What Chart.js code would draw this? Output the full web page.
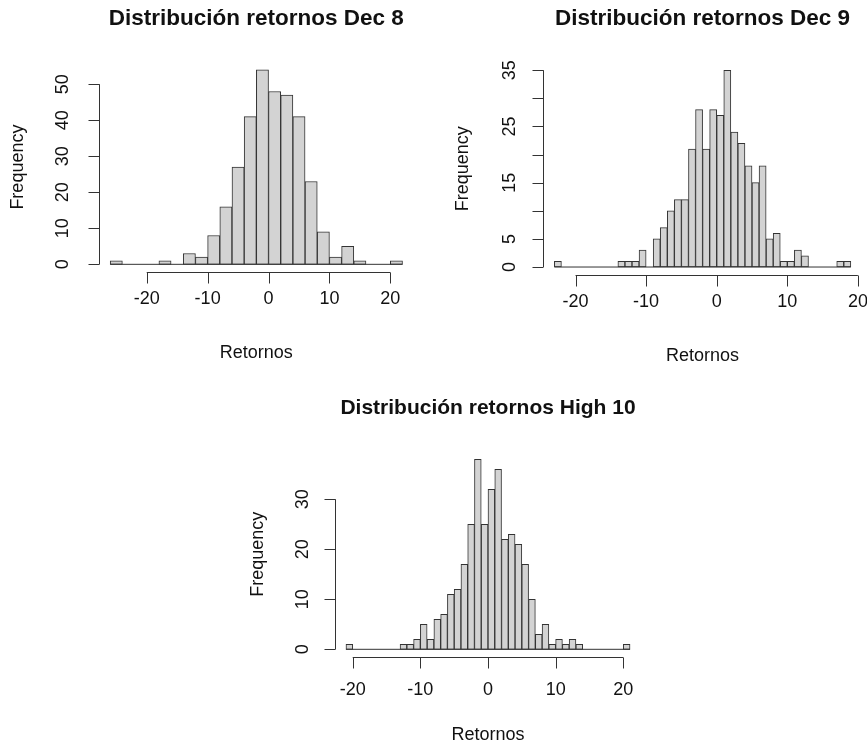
<!DOCTYPE html>
<html><head><meta charset="utf-8">
<script src="https://cdn.jsdelivr.net/npm/chart.js@4.4.1/dist/chart.umd.min.js"></script>
<style>
html,body{margin:0;padding:0;background:#fff;width:867px;height:744px;overflow:hidden}
canvas{position:absolute;left:0;top:0}
</style></head><body>
<canvas id="c1" width="867" height="744"></canvas>
<canvas id="c2" width="867" height="744"></canvas>
<canvas id="c3" width="867" height="744"></canvas>
<script>
// ---- Data ----
const titles = ["Distribución retornos Dec 8", "Distribución retornos Dec 9", "Distribución retornos High 10"];
const xAxisTitle = "Retornos";
const yAxisTitle = "Frequency";

// Dec 8: bins of width 2 starting at -26
const start1 = -26, width1 = 2;
const counts1 = [1,0,0,0,1,0,3,2,8,16,27,41,54,48,47,41,23,9,2,5,1,0,0,1];

// Dec 9: bins of width 1 starting at -23
const start2 = -23, width2 = 1;
const counts2 = [1,0,0,0,0,0,0,0,0,1,1,1,3,0,5,7,10,12,12,21,28,21,28,27,35,24,22,18,15,18,5,6,1,1,3,2,0,0,0,0,1,1];

// High 10: bins of width 1 starting at -21
const start3 = -21, width3 = 1;
const counts3 = [1,0,0,0,0,0,0,0,1,1,2,5,2,6,7,11,12,17,25,38,25,32,36,22,23,21,17,10,3,5,1,2,1,2,1,0,0,0,0,0,0,1];

const xTicks = [-20,-10,0,10,20];
const yTicks1 = [0,10,20,30,40,50];
const yLabels1 = ["0","10","20","30","40","50"];
const yTicks2 = [0,5,10,15,20,25,30,35];
const yLabels2 = ["0","5","","15","","25","","35"];
const yTicks3 = [0,10,20,30];
const yLabels3 = ["0","10","20","30"];

// ---- Layout (page pixels) ----
const panels = [
  {id:'c1', title:titles[0], start:start1, w:width1, counts:counts1, yTicks:yTicks1, yLabels:yLabels1,
   plot:{l:98.5,r:414.2,t:62.1,b:272.1}, titleY:19, titleSize:22.5, yLabX:62.7, yTitleX:18.3, xLabY:299.5, xTitleY:353},
  {id:'c2', title:titles[1], start:start2, w:width2, counts:counts2, yTicks:yTicks2, yLabels:yLabels2,
   plot:{l:542.5,r:862.7,t:62.4,b:274.9}, titleY:19, titleSize:22.5, yLabX:510, yTitleX:463.3, xLabY:302, xTitleY:356.5},
  {id:'c3', title:titles[2], start:start3, w:width3, counts:counts3, yTicks:yTicks3, yLabels:yLabels3,
   plot:{l:334.6,r:641.4,t:451.7,b:656.9}, titleY:408, titleSize:21, yLabX:303.3, yTitleX:258.3, xLabY:690, xTitleY:735}
];

const FONT = '"Liberation Sans", Arial, Helvetica, sans-serif';
const LINE = '#333';

function makeChart(p) {
  const n = p.counts.length;
  const lo = p.start, hi = p.start + n * p.w;
  const ymax = Math.max(...p.counts);
  const xpad = (hi - lo) * 0.04, ypad = ymax * 0.04;
  const barData = p.counts.map((c, i) => ({x: lo + (i + 0.5) * p.w, y: c}));
  const baseData = [{x: lo, y: 0}, {x: hi, y: 0}];

  const rAxes = {
    id: 'rAxes',
    afterDraw(chart) {
      const ctx = chart.ctx;
      const xs = chart.scales.x, ys = chart.scales.y;
      const ca = chart.chartArea;
      ctx.save();
      ctx.strokeStyle = LINE;
      ctx.lineWidth = 1;
      ctx.fillStyle = '#111';
      // x axis
      const ay = Math.round(ca.bottom) + 0.5;
      const tl = 11;
      ctx.beginPath();
      ctx.moveTo(xs.getPixelForValue(xTicks[0]), ay);
      ctx.lineTo(xs.getPixelForValue(xTicks[xTicks.length-1]), ay);
      xTicks.forEach(v => {
        const px = Math.round(xs.getPixelForValue(v)) + 0.5;
        ctx.moveTo(px, ay); ctx.lineTo(px, ay + tl);
      });
      ctx.stroke();
      ctx.font = '18px ' + FONT;
      ctx.textAlign = 'center'; ctx.textBaseline = 'middle';
      xTicks.forEach(v => ctx.fillText(String(v), xs.getPixelForValue(v), p.xLabY));
      ctx.fillText(xAxisTitle, (ca.left + ca.right) / 2, p.xTitleY);
      // y axis
      const ax = Math.round(ca.left) + 0.5;
      ctx.beginPath();
      ctx.moveTo(ax, ys.getPixelForValue(p.yTicks[0]));
      ctx.lineTo(ax, ys.getPixelForValue(p.yTicks[p.yTicks.length-1]));
      p.yTicks.forEach(v => {
        const py = Math.round(ys.getPixelForValue(v)) + 0.5;
        ctx.moveTo(ax, py); ctx.lineTo(ax - tl, py);
      });
      ctx.stroke();
      p.yTicks.forEach((v, i) => {
        const lab = p.yLabels[i];
        if (!lab) return;
        ctx.save();
        ctx.translate(p.yLabX, ys.getPixelForValue(v));
        ctx.rotate(-Math.PI / 2);
        ctx.fillText(lab, 0, 0);
        ctx.restore();
      });
      ctx.save();
      ctx.translate(p.yTitleX, (ca.top + ca.bottom) / 2);
      ctx.rotate(-Math.PI / 2);
      ctx.fillText(yAxisTitle, 0, 0);
      ctx.restore();
      // title
      ctx.font = 'bold ' + p.titleSize + 'px ' + FONT;
      ctx.fillText(p.title, (ca.left + ca.right) / 2, p.titleY);
      ctx.restore();
    }
  };

  new Chart(document.getElementById(p.id), {
    data: {
      datasets: [
        {type: 'bar', data: barData, backgroundColor: '#d3d3d3', borderColor: LINE, borderWidth: 1,
         borderSkipped: false, barPercentage: 1, categoryPercentage: 1, order: 2},
        {type: 'line', data: baseData, borderColor: LINE, borderWidth: 1, pointRadius: 0, order: 1}
      ]
    },
    options: {
      responsive: false, animation: false, devicePixelRatio: 1,
      layout: {padding: {left: p.plot.l, right: 867 - p.plot.r, top: p.plot.t, bottom: 744 - p.plot.b}},
      plugins: {legend: {display: false}, tooltip: {enabled: false}, title: {display: false}},
      scales: {
        x: {type: 'linear', display: false, offset: false, min: lo - xpad, max: hi + xpad,
            ticks: {stepSize: 10, includeBounds: false}, grid: {offset: false}},
        y: {type: 'linear', display: false, min: -ypad, max: ymax + ypad}
      }
    },
    plugins: [rAxes]
  });
}
panels.forEach(makeChart);
</script>
</body></html>
